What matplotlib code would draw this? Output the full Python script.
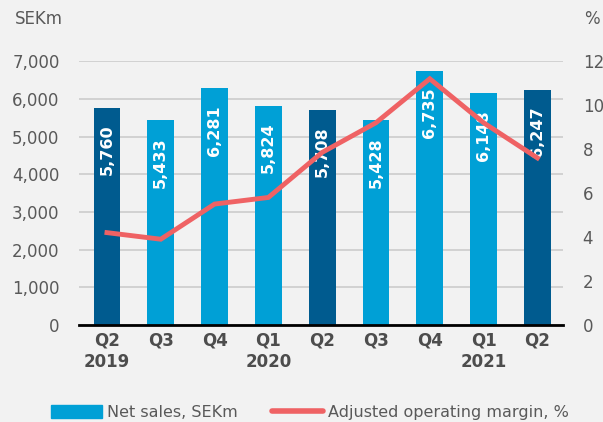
import matplotlib
matplotlib.use('Agg')
import matplotlib.pyplot as plt
from matplotlib.patches import Patch
from matplotlib.lines import Line2D

# --- data ---
quarters = ['Q2\n2019', 'Q3', 'Q4', 'Q1\n2020', 'Q2', 'Q3', 'Q4', 'Q1\n2021', 'Q2']
net_sales = [5760, 5433, 6281, 5824, 5708, 5428, 6735, 6148, 6247]
adj_margin = [4.2, 3.9, 5.5, 5.8, 7.85, 9.2, 11.2, 9.2, 7.6]
highlight = [True, False, False, False, True, False, False, False, True]

BG = '#f2f2f2'
DARK = '#005b8f'
LIGHT = '#00a0d6'
RED = '#ef6264'
GREY = '#595959'

fig = plt.figure(figsize=(6.03, 4.22), dpi=100, facecolor=BG)
ax = fig.add_axes([0.131, 0.23, 0.803, 0.625], facecolor=BG)
ax2 = ax.twinx()

x = list(range(len(quarters)))
colors = [DARK if h else LIGHT for h in highlight]
ax.bar(x, net_sales, width=0.5, color=colors, zorder=2)

for i, v in enumerate(net_sales):
    ax.annotate(f"{v:,}", (i, v), xytext=(0, -12), textcoords='offset points',
                rotation=90, ha='center', va='top', color='white',
                fontsize=11.5, fontweight='bold', zorder=3)

ax.set_xlim(-0.52, 8.48)
ax.set_ylim(0, 7000)
ax.set_yticks(range(0, 7001, 1000))
ax.set_yticklabels([f"{t:,}" for t in range(0, 7001, 1000)])
ax.yaxis.grid(True, color='#cccccc', linewidth=1.2, zorder=0)
ax.set_axisbelow(True)
ax.set_xticks(x)
ax.set_xticklabels(quarters, fontweight='bold', color='#4d4d4d', fontsize=12)
ax.tick_params(axis='y', length=0, labelsize=12, labelcolor=GREY, pad=14)
ax.tick_params(axis='x', length=0, pad=5)
for s in ['top', 'right', 'left']:
    ax.spines[s].set_visible(False)
ax.spines['bottom'].set_linewidth(2)
ax.spines['bottom'].set_color('black')
ax.spines['bottom'].set_zorder(5)

ax2.plot(x, adj_margin, color=RED, linewidth=3.5, zorder=4, solid_joinstyle='miter')
ax2.set_ylim(0, 12)
ax2.set_yticks(range(0, 13, 2))
ax2.tick_params(axis='y', length=0, labelsize=12, labelcolor=GREY, pad=14)
for s in ax2.spines.values():
    s.set_visible(False)

fig.text(0.025, 0.955, 'SEKm', fontsize=12, color=GREY, va='center')
fig.text(0.968, 0.955, '%', fontsize=12, color=GREY, va='center')

handles = [Patch(color=LIGHT), Line2D([0], [0], color=RED, linewidth=4, solid_capstyle='round')]
fig.legend(handles, ['Net sales, SEKm', 'Adjusted operating margin, %'],
           loc='lower left', bbox_to_anchor=(0.06, -0.03), ncol=2, frameon=False,
           fontsize=11.5, labelcolor=GREY, handlelength=3.2, handleheight=0.9,
           handletextpad=0.35, columnspacing=2.1)

fig.savefig('out.png', dpi=100, facecolor=BG)
